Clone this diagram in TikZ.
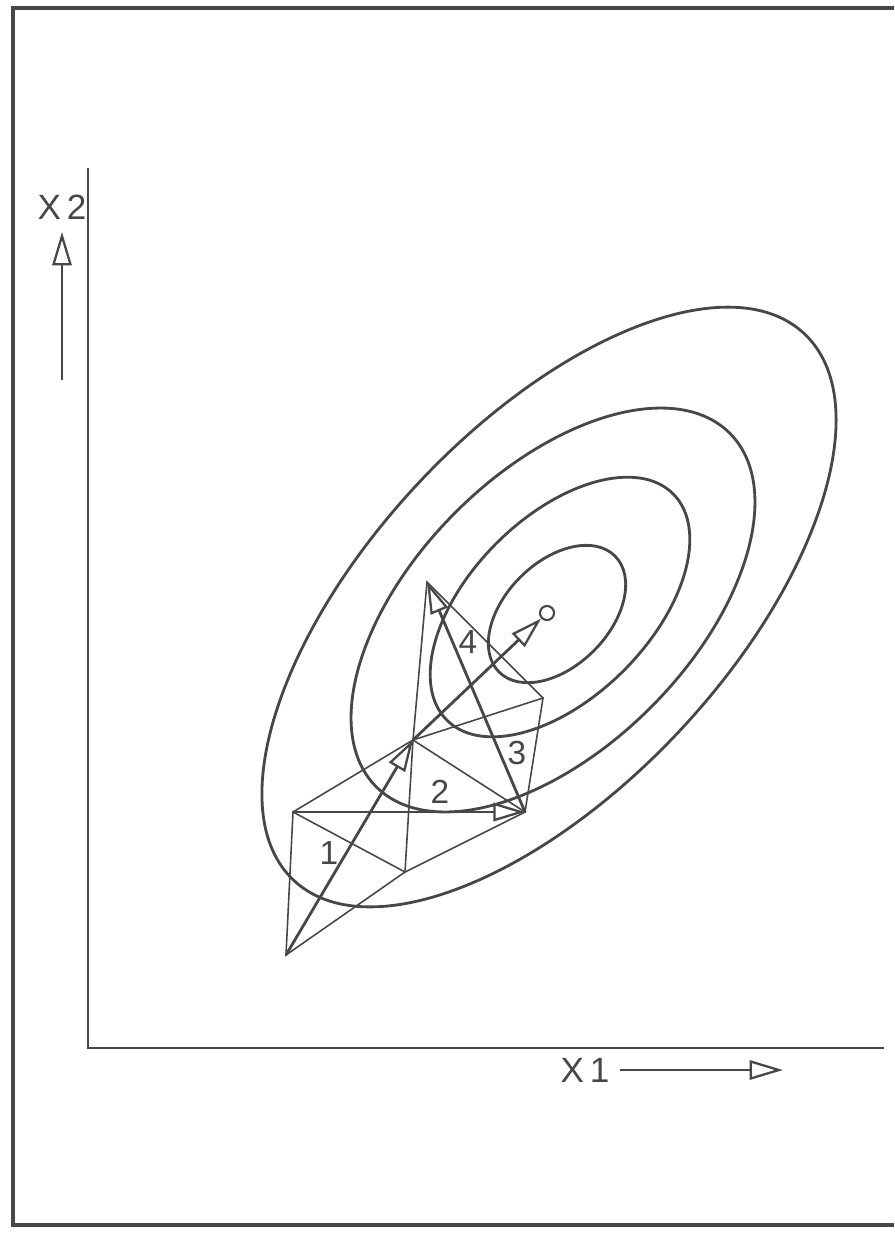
\documentclass[tikz,border=0pt]{standalone}
\usepackage{fontspec}
\setmainfont{Liberation Sans}
\usetikzlibrary{arrows.meta, positioning, calc}

\begin{document}
\begin{tikzpicture}[x=0.2mm, y=-0.2mm,
  ink/.style={draw=black!72},
  contour/.style={ink, line width=1.6pt},
  edge/.style={ink, line width=0.9pt},
  move/.style={ink, line width=1.6pt, -{Triangle[open, length=18pt, width=10.5pt, line width=1.3pt]}},
  axarrow/.style={ink, line width=1.3pt, -{Triangle[open, length=19pt, width=11pt, line width=1.3pt]}},
  num/.style={text=black!72, inner sep=0pt, font=\fontsize{19}{19}\selectfont},
  axlabel/.style={text=black!72, inner sep=0pt, font=\fontsize{20}{20}\selectfont}]
\useasboundingbox (0,0) rectangle (894,1235);
% frame and axes
\draw[ink, line width=1.8pt] (894,8) -- (13,8) -- (13,1225) -- (894,1225);
\coordinate (ytop) at (88,168);
\coordinate (orig) at (88,1048);
\coordinate (xend) at (884,1048);
\draw[ink, line width=1.4pt] (ytop) -- (orig) -- (xend);
\node[axlabel] (x2) at (62,207) {X\,2};
\coordinate (x2a) at (62,380);
\coordinate (x2b) at (62,232);
\draw[axarrow] (x2a) -- (x2b);
\node[axlabel] (x1) at (585,1070) {X\,1};
\coordinate (x1a) at (620,1070);
\coordinate (x1b) at (783,1070);
\draw[axarrow] (x1a) -- (x1b);
% contours
\coordinate (c1) at (557,614);
\coordinate (c2) at (560,607);
\coordinate (c3) at (553,610);
\coordinate (c4) at (549,607);
\draw[contour, rotate around={45:(c1)}] (c1) ellipse [x radius=82, y radius=52];
\draw[contour, rotate around={45:(c2)}] (c2) ellipse [x radius=160, y radius=90];
\draw[contour, rotate around={45:(c3)}] (c3) ellipse [x radius=250, y radius=138];
\draw[contour, rotate around={47:(c4)}] (c4) ellipse [x radius=374, y radius=180];
% simplex vertices
\coordinate (A) at (286,955);
\coordinate (B) at (293,812);
\coordinate (C) at (405,872);
\coordinate (D) at (413,740);
\coordinate (E) at (525,812);
\coordinate (F) at (543,698);
\coordinate (G) at (427,582);
\node[ink, circle, line width=1.2pt, fill=white, minimum size=8pt, inner sep=0pt] (H) at (547,613) {};
\draw[edge] (A) -- (B) -- (C) -- cycle;
\draw[edge] (B) -- (D) -- (C) -- (E) -- (D);
\draw[edge] (D) -- (F) -- (E);
\draw[edge] (D) -- (G) -- (F);
% moves
\draw[move] (A) -- (D);
\draw[move] (B) -- (E);
\draw[move] (E) -- (G);
\draw[move] (D) -- (H);
\node[num] (n1) at (329,853) {1};
\node[num] (n2) at (440,792) {2};
\node[num] (n3) at (517,753) {3};
\node[num] (n4) at (468,642) {4};
\end{tikzpicture}
\end{document}
